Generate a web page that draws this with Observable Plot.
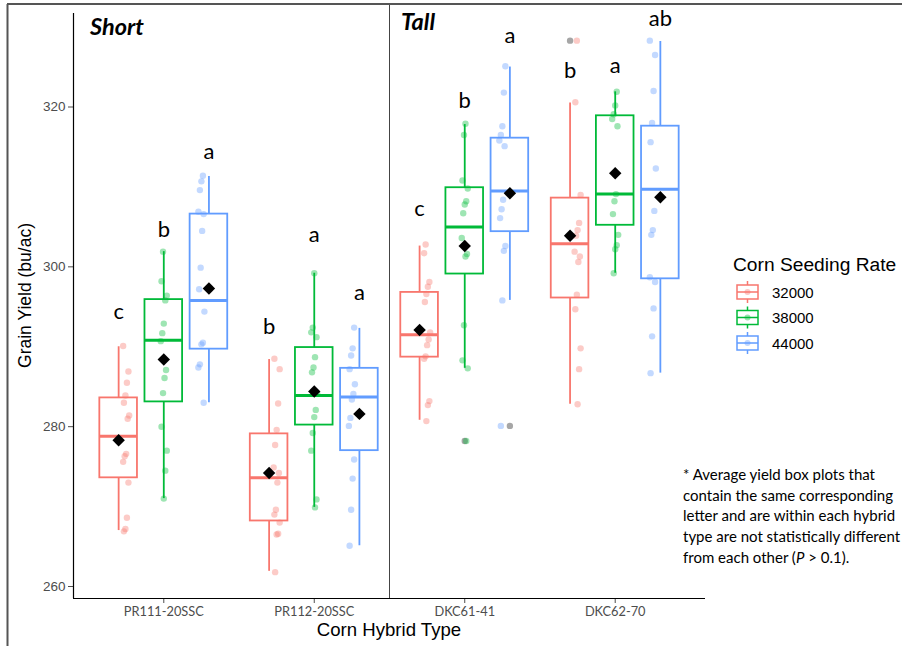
<!DOCTYPE html>
<html><head><meta charset="utf-8">
<script src="https://cdn.jsdelivr.net/npm/d3@7"></script>
<script src="https://cdn.jsdelivr.net/npm/@observablehq/plot@0.6"></script>
<style>
html,body{margin:0;padding:0;background:#fff;}
#chart{width:902px;height:646px;overflow:hidden;}
</style>
</head><body><div id="chart"></div>
<script>
// ---- data ----
const hybrids = ["PR111-20SSC", "PR112-20SSC", "DKC61-41", "DKC62-70"];
const rates = ["32000", "38000", "44000"];
const rateColors = ["#F8766D", "#00BA38", "#619CFF"];
const hybridTypes = ["Short", "Tall"];
const typeBoundary = 1.5; // between PR112-20SSC and DKC61-41
const yTicks = [260, 280, 300, 320];

// box statistics: rows = hybrid, cols = seeding rate
const whiskerLow  = [[267.0, 271.0, 283.0], [261.9, 269.9, 265.1], [280.8, 287.3, 295.8], [282.8, 299.2, 286.7]];
const q1          = [[273.6, 283.1, 289.7], [268.2, 280.2, 277.0], [288.7, 299.1, 304.4], [296.1, 305.2, 298.5]];
const median      = [[278.8, 290.8, 295.8], [273.6, 283.9, 283.7], [291.5, 305.0, 309.5], [302.9, 309.1, 309.7]];
const q3          = [[283.6, 295.9, 306.6], [279.1, 289.9, 287.3], [296.8, 309.9, 316.1], [308.6, 318.9, 317.6]];
const whiskerHigh = [[290.0, 301.9, 311.3], [288.4, 299.2, 292.3], [302.6, 317.8, 325.0], [320.5, 321.9, 328.2]];
const means       = [[278.3, 288.4, 297.3], [274.2, 284.4, 281.6], [292.1, 302.6, 309.2], [303.9, 311.7, 308.7]];
const letters     = [["c", "b", "a"], ["b", "a", "a"], ["c", "b", "a"], ["b", "a", "ab"]];
const letterY     = [[294.4, 304.6, 314.4], [292.5, 304.0, 296.7], [307.3, 320.8, 328.9], [324.5, 325.1, 331.0]];

// outliers
const outlierHybrid = [2, 2, 3];
const outlierRate   = [1, 2, 0];
const outlierValue  = [278.2, 280.1, 328.3];

// individual plot yields, per hybrid: [32000, 38000, 44000]
const yieldPR111 = [
  [290.1, 286.9, 285.5, 283.9, 283.0, 281.4, 281.0, 276.6, 276.3, 275.6, 273.0, 268.6, 267.2, 266.9],
  [301.9, 298.2, 296.4, 295.8, 292.9, 291.7, 290.7, 287.1, 286.1, 284.2, 280.0, 277.0, 274.5, 271.0],
  [311.4, 310.7, 309.6, 306.9, 306.6, 304.5, 299.9, 297.2, 294.4, 290.5, 290.3, 287.8, 287.4, 283.0]
];
const yieldPR112 = [
  [288.5, 287.2, 282.9, 279.6, 277.7, 274.9, 274.2, 273.0, 269.6, 269.0, 268.0, 266.6, 266.5, 261.8],
  [299.2, 292.4, 291.8, 291.2, 288.7, 287.4, 286.8, 284.1, 282.1, 281.2, 279.2, 277.0, 270.9, 269.9],
  [292.4, 289.8, 288.9, 287.2, 285.3, 284.1, 283.4, 281.1, 280.1, 275.9, 273.5, 269.6, 265.1]
];
const yieldDKC61 = [
  [302.8, 301.7, 298.1, 297.5, 296.6, 295.6, 291.8, 290.9, 290.2, 288.8, 288.5, 283.2, 282.7, 280.7],
  [317.9, 316.5, 310.8, 309.8, 308.2, 307.8, 306.7, 303.6, 301.6, 301.3, 292.7, 288.3, 287.3, 278.2],
  [325.1, 321.8, 317.6, 316.5, 315.8, 315.1, 308.4, 307.2, 306.1, 302.6, 302.0, 295.8, 280.1]
];
const yieldDKC62 = [
  [328.3, 320.6, 309.0, 305.5, 304.6, 303.9, 301.9, 301.3, 300.6, 296.5, 294.7, 289.8, 287.2, 282.8],
  [321.9, 320.2, 319.1, 318.5, 317.6, 309.1, 308.2, 306.6, 304.0, 302.7, 302.2, 299.2],
  [328.3, 326.5, 322.0, 318.0, 315.6, 312.3, 307.0, 304.6, 304.0, 298.7, 298.1, 294.8, 291.3, 286.7]
];

const footnote = [
  ["* Average yield box plots that"],
  ["contain the same corresponding"],
  ["letter and are within each hybrid"],
  ["type are not statistically different"],
  ["from each other (", "P", " > 0.1)."]
];

// ---- derived tables ----
const boxDodge = 0.3, pointDodge = 0.25, halfBox = 0.125;
const boxData = [];
hybrids.forEach((h, i) => rates.forEach((r, j) => boxData.push({
  hybrid: h, rate: r, xc: i + (j - 1) * boxDodge,
  lo: whiskerLow[i][j], q1: q1[i][j], med: median[i][j], q3: q3[i][j], hi: whiskerHigh[i][j],
  mean: means[i][j], letter: letters[i][j], ly: letterY[i][j]
})));
const pts = [];
[yieldPR111, yieldPR112, yieldDKC61, yieldDKC62].forEach((g, i) => g.forEach((vals, j) => vals.forEach((v, k) => {
  const jitter = (((k * 7 + j * 3 + i) % 9) - 4) * 0.005;
  pts.push({rate: rates[j], x: i + (j - 1) * pointDodge + jitter, y: v});
})));
const outl = outlierValue.map((v, k) => ({x: outlierHybrid[k] + (outlierRate[k] - 1) * boxDodge, y: v}));

const xDomain = [-0.6, hybrids.length - 1 + 0.6];
const yDomain = [258.5, 331.7];
const typeLabels = hybridTypes.map((t, k) => ({t, x: k === 0 ? xDomain[0] : typeBoundary, dx: k === 0 ? 17 : 12, dy: k === 0 ? 22 : 17}));

const W = 902, H = 646;
const FONT = "'Liberation Sans', Arial, sans-serif";
const plot = Plot.plot({
  width: W, height: H,
  marginLeft: 73, marginRight: 197, marginTop: 13, marginBottom: 48,
  style: {fontFamily: FONT, background: "white", overflow: "visible"},
  x: {domain: xDomain},
  y: {domain: yDomain},
  color: {domain: rates, range: rateColors},
  marks: [
    Plot.axisY({ticks: yTicks, tickSize: 5, tickPadding: 3, fontSize: 13.5, color: "#4d4d4d", label: null}),
    Plot.axisX({ticks: d3.range(hybrids.length), tickFormat: i => hybrids[i], tickSize: 5, tickPadding: 3, fontSize: 12.8, fontFamily: "Lato, sans-serif", color: "#4d4d4d", label: null}),
    Plot.ruleX([xDomain[0]], {stroke: "black", strokeWidth: 1.2}),
    Plot.ruleY([yDomain[0]], {stroke: "black", strokeWidth: 1.2}),
    Plot.ruleX([typeBoundary], {y1: yDomain[0], y2: yDomain[1] + 1.1, stroke: "#444", strokeWidth: 1}),
    Plot.ruleX(boxData, {x: "xc", y1: "lo", y2: "q1", stroke: "rate", strokeWidth: 1.8}),
    Plot.ruleX(boxData, {x: "xc", y1: "q3", y2: "hi", stroke: "rate", strokeWidth: 1.8}),
    Plot.rect(boxData, {x1: d => d.xc - halfBox, x2: d => d.xc + halfBox, y1: "q1", y2: "q3", stroke: "rate", fill: "white", fillOpacity: 0, strokeWidth: 1.8}),
    Plot.ruleY(boxData, {y: "med", x1: d => d.xc - halfBox, x2: d => d.xc + halfBox, stroke: "rate", strokeWidth: 3}),
    Plot.dot(outl, {x: "x", y: "y", r: 3.2, fill: "black", fillOpacity: 0.35}),
    Plot.dot(pts, {x: "x", y: "y", r: 3.2, fill: "rate", fillOpacity: 0.38}),
    Plot.dot(boxData, {x: "xc", y: "mean", symbol: "diamond2", r: 5.6, fill: "black"}),
    Plot.text(boxData, {x: "xc", y: "ly", text: "letter", fontSize: 22, fontFamily: "Lato, sans-serif", fill: "black"})
  ]
});
document.getElementById("chart").appendChild(plot);

const svg = d3.select(plot);
const xs = plot.scale("x");

// hybrid-type titles
typeLabels.forEach(d => {
  svg.append("text").attr("x", xs.apply(d.x) + d.dx).attr("y", 13 + d.dy).attr("text-anchor", "start")
    .attr("font-family", "Lato, sans-serif").attr("font-size", 23.5).attr("font-weight", "bold").attr("font-style", "italic")
    .text(d.t);
});

// axis titles
svg.append("text").attr("transform", `translate(25,${(13 + 598) / 2 - 10}) rotate(-90)`).attr("text-anchor", "middle")
  .attr("dy", "0.35em").attr("font-size", 17.5).attr("font-family", FONT).text("Grain Yield (bu/ac)");
svg.append("text").attr("x", (xs.apply(xDomain[0]) + xs.apply(xDomain[1])) / 2).attr("y", 636).attr("text-anchor", "middle")
  .attr("font-size", 18.6).attr("font-family", FONT).text("Corn Hybrid Type");

// legend
const lg = svg.append("g").attr("text-anchor", "start");
lg.append("text").attr("x", 733).attr("y", 271).attr("font-size", 19.2).attr("font-family", FONT).text("Corn Seeding Rate");
rates.forEach((r, k) => {
  const cy = 292 + k * 25.5, c = rateColors[k];
  lg.append("line").attr("x1", 747.5).attr("x2", 747.5).attr("y1", cy - 11).attr("y2", cy + 11).attr("stroke", c).attr("stroke-width", 1.5);
  lg.append("rect").attr("x", 737).attr("y", cy - 7).attr("width", 21).attr("height", 14).attr("fill", "white").attr("stroke", c).attr("stroke-width", 1.5);
  lg.append("line").attr("x1", 737).attr("x2", 758).attr("y1", cy).attr("y2", cy).attr("stroke", c).attr("stroke-width", 1.5);
  lg.append("circle").attr("cx", 747.5).attr("cy", cy).attr("r", 3).attr("fill", c).attr("fill-opacity", 0.4);
  lg.append("text").attr("x", 772).attr("y", cy + 5.5).attr("font-size", 15).attr("font-family", FONT).text(r);
});

// footnote
const fn = svg.append("text").attr("text-anchor", "start").attr("font-family", "Lato, sans-serif").attr("font-size", 15);
footnote.forEach((parts, k) => {
  parts.forEach((p, m) => {
    const ts = fn.append("tspan").text(p);
    if (m === 0) ts.attr("x", 683).attr("y", 480 + k * 20.7);
    if (p === "P") ts.attr("font-style", "italic");
  });
});

// outer frame lines
svg.append("line").attr("x1", 7).attr("x2", W).attr("y1", 4).attr("y2", 4).attr("stroke", "#555").attr("stroke-width", 2);
svg.append("line").attr("x1", 7.5).attr("x2", 7.5).attr("y1", 4).attr("y2", H).attr("stroke", "#555").attr("stroke-width", 2);
</script>
</body></html>
